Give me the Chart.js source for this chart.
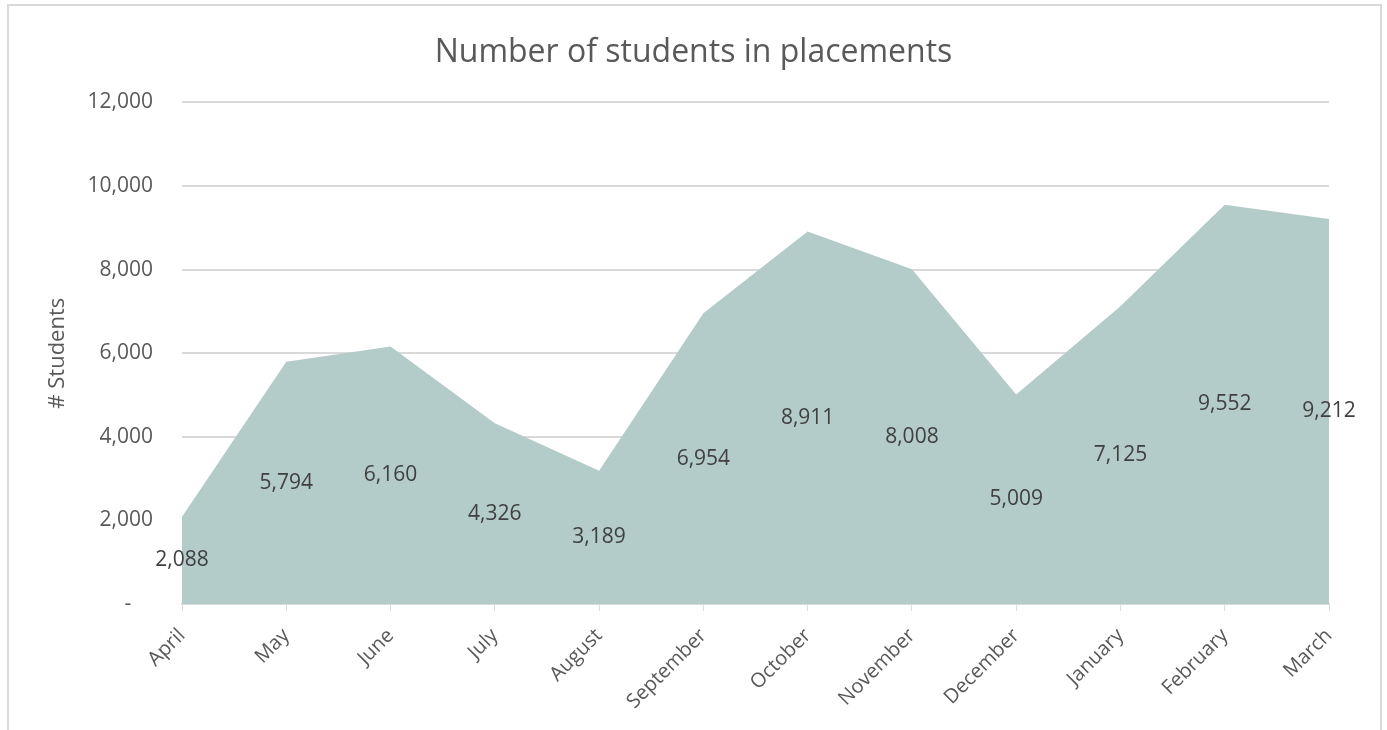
<!DOCTYPE html>
<html lang="en">
<head>
  <meta charset="UTF-8" />
  <title>Number of students in placements</title>
  <script src="https://cdn.jsdelivr.net/npm/chart.js@4.4.1/dist/chart.umd.min.js"></script>
  <style>
    body {
      margin: 0;
      background: #fff;
      font-family: 'Open Sans', sans-serif;
      overflow: hidden;
    }
    .frame {
      position: absolute;
      left: 7px;
      top: 4px;
      width: 1375px;
      height: 800px;
      border: 2px solid #D9D9D9;
      box-sizing: border-box;
    }
    #wrap {
      position: absolute;
      left: 0;
      top: 0;
      width: 1387px;
      height: 730px;
    }
  </style>
</head>
<body>
  <div class="frame"></div>
  <div id="wrap"><canvas id="area"></canvas></div>

  <script>
    const months = ['April', 'May', 'June', 'July', 'August', 'September',
      'October', 'November', 'December', 'January', 'February', 'March'];
    const students = [2088, 5794, 6160, 4326, 3189, 6954, 8911, 8008, 5009, 7125, 9552, 9212];
    const yTicks = [0, 2000, 4000, 6000, 8000, 10000, 12000];

    const fmt = v => v.toLocaleString('en-US');

    // Excel-style labels: centred inside the area, at half the value
    const centreLabels = {
      id: 'centreLabels',
      afterDatasetsDraw(chart) {
        const { ctx } = chart;
        const y = chart.scales.y;
        const meta = chart.getDatasetMeta(0);
        ctx.save();
        ctx.font = '21px "Open Sans"';
        ctx.fillStyle = '#404040';
        ctx.textAlign = 'center';
        ctx.textBaseline = 'middle';
        meta.data.forEach((pt, i) => {
          const v = students[i];
          ctx.fillText(fmt(v), pt.x, y.getPixelForValue(v / 2));
        });
        ctx.restore();
      }
    };

    new Chart(document.getElementById('area'), {
      type: 'line',
      data: {
        labels: months,
        datasets: [{
          data: students,
          fill: 'origin',
          backgroundColor: '#B3CCC9',
          borderWidth: 0,
          pointRadius: 0,
          tension: 0,
        }]
      },
      plugins: [centreLabels],
      options: {
        responsive: true,
        maintainAspectRatio: false,
        animation: false,
        layout: { padding: { left: 58, right: 58, top: 0, bottom: 0 } },
        plugins: {
          legend: { display: false },
          tooltip: { enabled: false },
          title: {
            display: true,
            text: 'Number of students in placements',
            color: '#595959',
            font: { family: 'Open Sans', size: 32, weight: 'normal' },
            padding: { top: 34, bottom: 30 },
          }
        },
        scales: {
          x: {
            offset: false,
            grid: {
              display: true,
              drawOnChartArea: false,
              drawTicks: true,
              tickLength: 7,
              color: '#D9D9D9',
            },
            border: { display: true, color: '#D9D9D9', width: 2 },
            ticks: {
              minRotation: 45,
              maxRotation: 45,
              autoSkip: false,
              padding: 13,
              color: '#595959',
              font: { family: 'Open Sans', size: 20 },
            },
            afterFit(scale) { scale.height = 126; }
          },
          y: {
            min: 0,
            max: 12000,
            afterBuildTicks(scale) {
              scale.ticks = yTicks.map(v => ({ value: v }));
            },
            grid: {
              color: '#D9D9D9',
              lineWidth: 2,
              drawTicks: false,
            },
            border: { display: false },
            ticks: {
              padding: 29,
              color: '#595959',
              font: { family: 'Open Sans', size: 21 },
              callback: v => v === 0 ? '-    ' : fmt(v),
            },
            title: {
              display: true,
              text: '# Students',
              color: '#595959',
              font: { family: 'Open Sans', size: 22 },
              padding: { top: -13, bottom: 0 },
            },
            afterFit(scale) { scale.width = 124; }
          }
        }
      }
    });
  </script>
</body>
</html>
